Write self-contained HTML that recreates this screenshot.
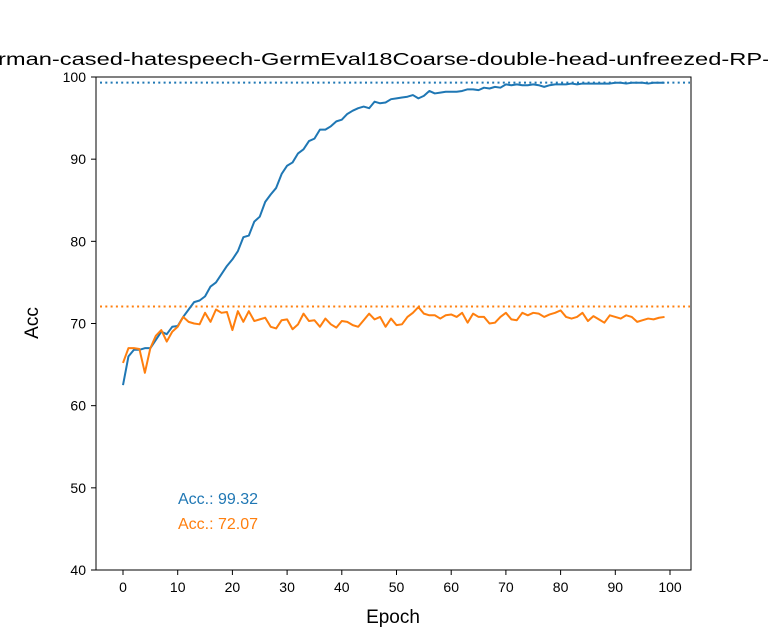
<!DOCTYPE html>
<html><head><meta charset="utf-8"><style>
body{margin:0;background:#fff;}
svg{display:block;font-family:"Liberation Sans","DejaVu Sans",sans-serif;}
</style></head><body>
<svg id="chart" width="768" height="640" viewBox="0 0 768 640">
<text x="-2" y="65" font-size="17.5" textLength="772" lengthAdjust="spacingAndGlyphs">rman-cased-hatespeech-GermEval18Coarse-double-head-unfreezed-RP-</text>
<g id="plot"></g>
<rect x="96" y="77" width="595" height="493" fill="none" stroke="#000" stroke-width="1"/>
<text x="393" y="623" font-size="19" text-anchor="middle">Epoch</text>
<text transform="translate(38,323) rotate(-90)" font-size="19" text-anchor="middle">Acc</text>
</svg>
<script>
const epochs = Array.from({length:100},(_,i)=>i);
const trainAcc = [62.5,66,66.8,66.8,67,67,68,69,68.7,69.6,69.7,70.8,71.7,72.6,72.8,73.3,74.5,75,76,77,77.8,78.8,80.5,80.7,82.4,83,84.8,85.7,86.5,88.2,89.2,89.6,90.7,91.2,92.2,92.5,93.6,93.6,94,94.6,94.8,95.5,95.9,96.2,96.4,96.2,97,96.8,96.9,97.3,97.4,97.5,97.6,97.8,97.4,97.7,98.3,98,98.1,98.2,98.2,98.2,98.3,98.5,98.5,98.4,98.7,98.6,98.8,98.7,99.1,99,99.1,99,99,99.1,99,98.8,99,99.1,99.1,99.1,99.2,99.1,99.2,99.2,99.2,99.2,99.2,99.2,99.3,99.3,99.2,99.3,99.3,99.3,99.2,99.3,99.3,99.3];
const testAcc = [65.2,67,67,66.9,64,67,68.5,69.2,67.8,69,69.6,70.8,70.2,70,69.9,71.3,70.2,71.7,71.3,71.4,69.2,71.5,70.2,71.5,70.3,70.5,70.7,69.6,69.4,70.4,70.5,69.3,69.9,71.2,70.3,70.4,69.6,70.6,69.9,69.5,70.3,70.2,69.8,69.6,70.4,71.2,70.5,70.8,69.6,70.6,69.8,69.9,70.8,71.3,72,71.2,71,71,70.6,71,71.1,70.8,71.3,70.1,71.2,70.8,70.8,70,70.1,70.8,71.3,70.5,70.4,71.3,71,71.3,71.2,70.8,71.1,71.3,71.6,70.8,70.6,70.8,71.3,70.3,70.9,70.5,70.1,71,70.8,70.6,71,70.8,70.2,70.4,70.6,70.5,70.7,70.8];
const maxTrain = 99.32, maxTest = 72.07;
const xTicks = [0,10,20,30,40,50,60,70,80,90,100];
const yTicks = [40,50,60,70,80,90,100];
const labels = ["Acc.: 99.32","Acc.: 72.07"];

const NS="http://www.w3.org/2000/svg";
const X = v => 123 + v*5.47;
const Y = v => 570 - (v-40)*(493/60);
const g = document.getElementById('plot');
function mk(t,a){const e=document.createElementNS(NS,t);for(const k in a)e.setAttribute(k,a[k]);g.appendChild(e);return e;}

xTicks.forEach(t=>{
  const l=mk('line',{x1:X(t),x2:X(t),y1:570,y2:575,stroke:'#000'});
  
  
  const s=mk('text',{x:X(t),y:592,'font-size':14,'text-anchor':'middle'});s.textContent=t;
  
  
});
yTicks.forEach(t=>{
  const l=mk('line',{x1:91,x2:96,y1:Y(t),y2:Y(t),stroke:'#000'});
  
  
  const s=mk('text',{x:86,y:Y(t)+5,'font-size':14,'text-anchor':'end'});s.textContent=t;
  
  
});
const hl1=mk('line',{x1:100,x2:690,y1:Y(maxTrain),y2:Y(maxTrain),stroke:'#1f77b4','stroke-width':2,'stroke-dasharray':'2,3.3'});


const hl2=mk('line',{x1:100,x2:690,y1:Y(maxTest),y2:Y(maxTest),stroke:'#ff7f0e','stroke-width':2,'stroke-dasharray':'2,3.3'});


const p1=mk('polyline',{points:epochs.map(i=>X(i)+','+Y(trainAcc[i])).join(' '),fill:'none',stroke:'#1f77b4','stroke-width':2,'stroke-linejoin':'round'});


const p2=mk('polyline',{points:epochs.map(i=>X(i)+','+Y(testAcc[i])).join(' '),fill:'none',stroke:'#ff7f0e','stroke-width':2,'stroke-linejoin':'round'});


const a1=mk('text',{x:178,y:504,'font-size':16,fill:'#1f77b4'});a1.textContent=labels[0];


const a2=mk('text',{x:178,y:529,'font-size':16,fill:'#ff7f0e'});a2.textContent=labels[1];


</script>
</body></html>
